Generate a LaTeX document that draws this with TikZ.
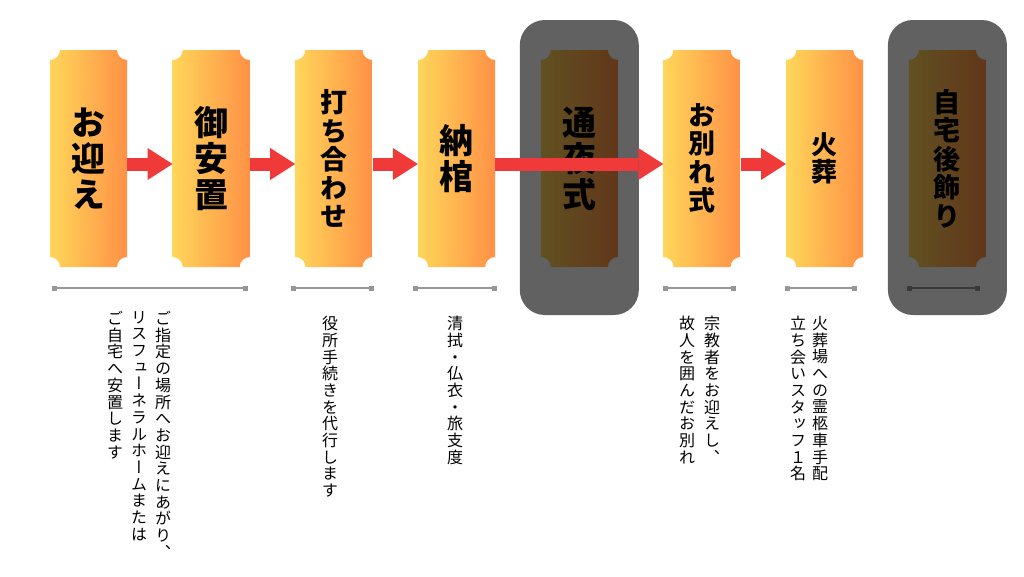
\documentclass[tikz,border=0pt]{standalone}
\usepackage{fontspec}
\newfontfamily\jp{Noto Sans CJK JP}[RawFeature=+vert]
\usetikzlibrary{arrows.meta,positioning}

\definecolor{cardL}{RGB}{255,214,90}
\definecolor{cardR}{RGB}{255,145,70}
\definecolor{flowred}{RGB}{240,58,58}
\definecolor{rulegray}{RGB}{150,150,150}

% one character per line, top to bottom
\newcommand\tatetext[1]{\tatestep#1\relax}
\def\tatestep#1#2{#1\ifx\relax#2\expandafter\tateend\else\expandafter\tatenext\fi#2}
\def\tatenext{\\\tatestep}
\def\tateend#1{}

\begin{document}
\begin{tikzpicture}[x=1pt,y=-1pt,node distance=45.3pt]
	\tikzstyle{card}=[minimum width=77pt,minimum height=217pt,inner sep=0pt,align=center,
		font=\jp\bfseries\fontsize{34}{36}\selectfont,
		path picture={\shade[left color=cardL,right color=cardR]
			([xshift=10pt]path picture bounding box.north west) -- ([xshift=-10pt]path picture bounding box.north east)
			arc[start angle=180,end angle=270,radius=10pt] -- ([yshift=10pt]path picture bounding box.south east)
			arc[start angle=90,end angle=180,radius=10pt] -- ([xshift=10pt]path picture bounding box.south west)
			arc[start angle=0,end angle=90,radius=10pt] -- ([yshift=-10pt]path picture bounding box.north west)
			arc[start angle=270,end angle=360,radius=10pt] -- cycle;}]
	\tikzstyle{midtitle}=[font=\jp\bfseries\fontsize{27}{28.5}\selectfont]
	\tikzstyle{veil}=[fill=black,fill opacity=0.62,rounded corners=25pt,minimum width=119pt,minimum height=295pt]
	\tikzstyle{flow}=[draw=flowred,line width=13pt,-{Triangle[width=32pt,length=25pt,line width=0pt]}]
	\tikzstyle{ruler}=[draw=rulegray,line width=2pt,{Square[length=5pt,width=5pt]}-{Square[length=5pt,width=5pt]}]
	\tikzstyle{note}=[anchor=north,inner sep=0pt,align=center,font=\jp\fontsize{16}{16.7}\selectfont]

	\useasboundingbox (0,0) rectangle (1024,576);

	\node[card] (c1) at (88.5,158.5) {\tatetext{お迎え}};
	\node[card] (c2) [right=of c1] {\tatetext{御安置}};
	\node[card,midtitle] (c3) [right=of c2] {\tatetext{打ち合わせ}};
	\node[card] (c4) [right=of c3] {\tatetext{納棺}};
	\node[card] (c5) [right=of c4] {\tatetext{通夜式}};
	\node[card,midtitle] (c6) [right=of c5] {\tatetext{お別れ式}};
	\node[card,font=\jp\bfseries\fontsize{26}{27}\selectfont] (c7) [right=of c6] {\tatetext{火葬}};
	\node[card,midtitle] (c8) [right=of c7] {\tatetext{自宅後飾り}};

	\foreach \a/\b in {52/248,291/374,413/497,663/736,785/857,907/980}
		\draw[ruler] (\a,288) -- (\b,288);

	\node[veil] (v1) at ([yshift=-9pt]c5.center) {};
	\node[veil] (v2) at ([yshift=-9pt]c8.center) {};

	\foreach \a/\b in {c1/c2,c2/c3,c3/c4,c4/c6,c6/c7}
		\draw[flow] ([yshift=-5.5pt]\a.east) -- ([yshift=-5.5pt]\b.west);

	\node[note] (n1) at (163,311) {\tatetext{ご指定の場所へお迎えにあがり、}};
	\node[note] (n2) at (139,311) {\tatetext{リスフューネラルホームまたは}};
	\node[note] (n3) at (115,311) {\tatetext{ご自宅へ安置します}};
	\node[note] (n4) at (330,316) {\tatetext{役所手続きを代行します}};
	\node[note] (n5) at (455,316) {\tatetext{清拭・仏衣・旅支度}};
	\node[note] (n6) at (712,316) {\tatetext{宗教者をお迎えし、}};
	\node[note] (n7) at (687,316) {\tatetext{故人を囲んだお別れ}};
	\node[note] (n8) at (820,316) {\tatetext{火葬場への霊柩車手配}};
	\node[note] (n9) at (798,316) {\tatetext{立ち会いスタッフ１名}};
\end{tikzpicture}
\end{document}
